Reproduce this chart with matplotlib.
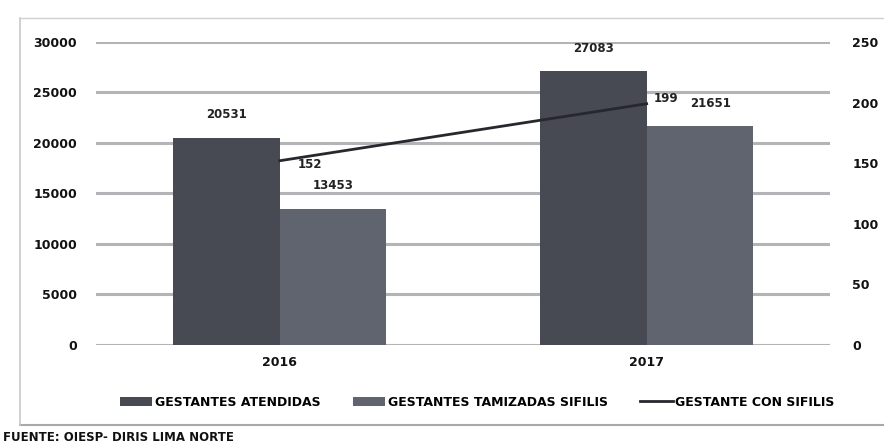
import matplotlib.pyplot as plt
import numpy as np

# data
years = ["2016", "2017"]
atendidas = [20531, 27083]
tamizadas = [13453, 21651]
con_sifilis = [152, 199]

left_ticks = [0, 5000, 10000, 15000, 20000, 25000, 30000]
right_ticks = [0, 50, 100, 150, 200, 250]

dark = "#474a52"
light = "#60646e"
line_col = "#26282e"
grid_col = "#b4b4b8"

plt.rcParams["font.family"] = ["DejaVu Sans"]
plt.rcParams["font.weight"] = "bold"

fig = plt.figure(figsize=(8.84, 4.46), dpi=100)
ax = fig.add_axes([0.109, 0.2265, 0.83, 0.6795])
ax2 = ax.twinx()

x = np.arange(len(years))
w = 0.29

# bars
b1 = ax.bar(x - w / 2, atendidas, w, color=dark, label="GESTANTES ATENDIDAS", zorder=2)
b2 = ax.bar(x + w / 2, tamizadas, w, color=light, label="GESTANTES TAMIZADAS SIFILIS", zorder=2)

for xi, v in zip(x - w / 2, atendidas):
    ax.annotate(str(v), (xi, v), xytext=(0, 12), textcoords="offset points",
                ha="center", va="bottom", fontsize=8.5, fontweight="bold", color="#222")
for i, (xi, v) in enumerate(zip(x + w / 2, tamizadas)):
    dx = 8 if i == 1 else 0
    ax.annotate(str(v), (xi, v), xytext=(dx, 12), textcoords="offset points",
                ha="center", va="bottom", fontsize=8.5, fontweight="bold", color="#222")

ax.set_xlim(-0.5, 1.5)
ax.set_ylim(0, 30000)
ax.set_yticks(left_ticks)
ax.set_xticks(x)
ax.set_xticklabels(years)
ax.yaxis.grid(True, color=grid_col, linewidth=2.2, zorder=0)
ax.set_axisbelow(True)
ax.tick_params(length=0, labelsize=9, colors="#111", pad=14)
ax.tick_params(axis="x", pad=8)
for s in ax.spines.values():
    s.set_visible(False)

# line on secondary axis
ln, = ax2.plot(x, con_sifilis, color=line_col, linewidth=2, label="GESTANTE CON SIFILIS", zorder=3)
ax2.annotate(str(con_sifilis[0]), (x[0], con_sifilis[0]), xytext=(22, -3), textcoords="offset points",
             ha="center", va="center", fontsize=8.5, fontweight="bold", color="#222")
ax2.annotate(str(con_sifilis[1]), (x[1], con_sifilis[1]), xytext=(14, 4), textcoords="offset points",
             ha="center", va="center", fontsize=8.5, fontweight="bold", color="#222")
ax2.set_ylim(0, 250)
ax2.set_yticks(right_ticks)
ax2.tick_params(length=0, labelsize=9, colors="#111", pad=16)
for s in ax2.spines.values():
    s.set_visible(False)

fig.legend([b1, b2, ln], [b1.get_label(), b2.get_label(), ln.get_label()],
           loc="center", bbox_to_anchor=(0.54, 0.098), ncol=3, frameon=False,
           fontsize=9, handlelength=2.6, handletextpad=0.2, columnspacing=2.6)

# frame of the scanned chart box
fig.add_artist(plt.Line2D([0.023, 1.0], [0.047, 0.047], color="#a8a8ac", lw=1.5))
fig.add_artist(plt.Line2D([0.023, 0.023], [0.047, 0.96], color="#c8c8cc", lw=1.2))
fig.add_artist(plt.Line2D([0.023, 1.0], [0.96, 0.96], color="#d0d0d4", lw=1.0))

fig.text(0.003, 0.02, "FUENTE: OIESP- DIRIS LIMA NORTE", fontsize=8.5, fontweight="bold",
         color="#111", ha="left", va="center")

fig.savefig("out.png", dpi=100, facecolor="white")
